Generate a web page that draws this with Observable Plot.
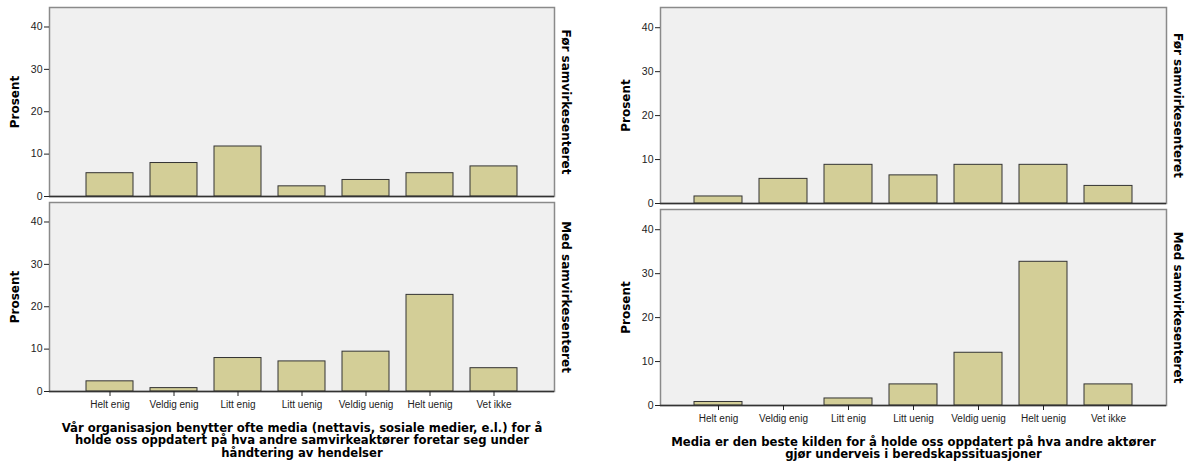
<!DOCTYPE html>
<html><head><meta charset="utf-8">
<script src="https://cdn.jsdelivr.net/npm/d3@7"></script>
<script src="https://cdn.jsdelivr.net/npm/@observablehq/plot@0.6"></script>
<style>
body{margin:0;background:#fff;}
#wrap{position:relative;width:1187px;height:466px;overflow:hidden;}
#left{position:absolute;left:0;top:0;}
#right{position:absolute;left:593px;top:0;}
</style></head><body><div id="wrap"><div id="left"></div><div id="right"></div></div>
<script>
const categories = ["Helt enig","Veldig enig","Litt enig","Litt uenig","Veldig uenig","Helt uenig","Vet ikke"];
const periods = ["Før samvirkesenteret","Med samvirkesenteret"];
const yTicks = [0, 10, 20, 30, 40];
const leftBefore = [5.5, 7.9, 11.8, 2.4, 3.9, 5.5, 7.1];
const leftAfter  = [2.4, 0.8, 7.9, 7.1, 9.4, 22.8, 5.5];
const rightBefore = [1.6, 5.6, 8.8, 6.4, 8.8, 8.8, 4.0];
const rightAfter  = [0.8, 0.0, 1.6, 4.8, 12.0, 32.7, 4.8];
const leftTitle = "Vår organisasjon benytter ofte media (nettavis, sosiale medier, e.l.) for å\nholde oss oppdatert på hva andre samvirkeaktører foretar seg under\nhåndtering av hendelser";
const rightTitle = "Media er den beste kilden for å holde oss oppdatert på hva andre aktører\ngjør underveis i beredskapssituasjoner";
const yLabel = "Prosent";

const boldFont = "'DejaVu Sans', Verdana, sans-serif";

function panel({before, after, title, width, marginLeft, marginRight, marginBottom, titleDy, fyPad}) {
  const rows = [];
  categories.forEach((c, i) => rows.push({cat: c, period: periods[0], value: before[i]}));
  categories.forEach((c, i) => rows.push({cat: c, period: periods[1], value: after[i]}));
  return Plot.plot({
    width, height: 466, marginTop: 7, marginLeft, marginRight, marginBottom,
    style: {fontFamily: "'Liberation Sans', Arial, sans-serif", fontSize: "10px", color: "#222", background: "#fff", overflow: "visible"},
    x: {domain: categories, paddingInner: 0.26, paddingOuter: 0.515},
    y: {domain: [0, 44.6]},
    fy: {domain: periods, paddingInner: fyPad, paddingOuter: 0, axis: null},
    marks: [
      Plot.frame({fill: "#F0F0F0", stroke: "#8a8a8a", strokeWidth: 1.5}),
      Plot.barY(rows, {x: "cat", y: "value", fy: "period", fill: "#D3CE97", stroke: "#333", strokeWidth: 1}),
      Plot.ruleY([0], {stroke: "#333", strokeWidth: 1.5}),
      Plot.axisY({ticks: yTicks, tickSize: 5, tickPadding: 2, fontSize: 10.5, label: null}),
      Plot.axisX({tickSize: 5, tickPadding: 4, fontSize: 10, label: null}),
      Plot.text(periods, {fy: d => d, text: d => d, frameAnchor: "right", textAnchor: "middle", rotate: 90, dx: 11, fontWeight: "bold", fontSize: 12, fontFamily: boldFont, fill: "#000"}),
      Plot.text(periods, {fy: d => d, text: () => yLabel, frameAnchor: "left", textAnchor: "middle", rotate: -90, dx: -34, fontWeight: "bold", fontSize: 12, fontFamily: boldFont, fill: "#000"}),
      Plot.text([periods[1]], {fy: d => d, text: () => title, frameAnchor: "bottom", textAnchor: "middle", dy: titleDy, lineAnchor: "top", lineHeight: 1.1, fontWeight: "bold", fontSize: 11.65, fontFamily: boldFont, fill: "#000"})
    ]
  });
}

document.getElementById("left").append(panel({before: leftBefore, after: leftAfter, title: leftTitle, width: 593, marginLeft: 49, marginRight: 39, marginBottom: 74, titleDy: 31, fyPad: 0.03}));
document.getElementById("right").append(panel({before: rightBefore, after: rightAfter, title: rightTitle, width: 594, marginLeft: 67, marginRight: 21, marginBottom: 60, titleDy: 31, fyPad: 0.028}));
</script>
</body></html>
